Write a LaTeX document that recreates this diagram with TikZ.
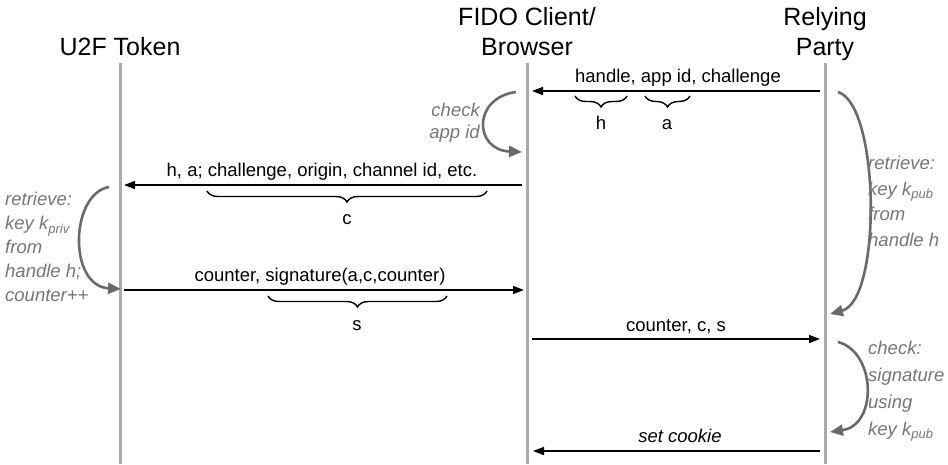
\documentclass[tikz,border=0pt]{standalone}
\usepackage{fontspec}
\setmainfont{Liberation Sans}
\usetikzlibrary{arrows.meta,decorations.pathreplacing}
\definecolor{lifegray}{HTML}{AAAAAA}
\definecolor{arcgray}{HTML}{6A6A6A}
\definecolor{txtgray}{HTML}{767676}
\begin{document}
\begin{tikzpicture}[x=1pt,y=-1pt,
  title/.style={font=\fontsize{25}{30}\selectfont, align=center, inner sep=0pt},
  life/.style={draw=lifegray, line width=3pt},
  msg/.style={draw=black, line width=1.6pt, -{Triangle[length=11pt,width=8pt]}},
  msglabel/.style={font=\fontsize{18.5}{22}\selectfont, inner sep=0pt, anchor=base},
  bracelabel/.style={font=\fontsize{18.5}{22}\selectfont, inner sep=0pt, anchor=base},
  brc/.style={draw=black, line width=1.4pt, decorate, decoration={brace, mirror, amplitude=11pt}},
  arc/.style={draw=arcgray, line width=2.6pt, -{Triangle[length=13pt,width=11pt]}},
  note/.style={text=txtgray, inner sep=0pt},
]
\useasboundingbox (0,0) rectangle (948,464);

% titles
\node[title, anchor=base] (tok) at (120,55) {U2F Token};
\node[title, anchor=base] (cli1) at (527,25) {FIDO Client/};
\node[title, anchor=base] (cli2) at (527,55) {Browser};
\node[title, anchor=base] (rp1) at (825,25) {Relying};
\node[title, anchor=base] (rp2) at (825,55) {Party};

% lifelines
\coordinate (tokT) at (120,63); \coordinate (tokB) at (120,464);
\coordinate (cliT) at (527,63); \coordinate (cliB) at (527,464);
\coordinate (rpT) at (825,63);  \coordinate (rpB) at (825,464);
\draw[life] (tokT) -- (tokB);
\draw[life] (cliT) -- (cliB);
\draw[life] (rpT) -- (rpB);

% message 1
\coordinate (m1s) at (820,91); \coordinate (m1e) at (532,91);
\draw[msg] (m1s) -- (m1e);
\node[msglabel] (l1) at (678,82) {handle, app id, challenge};
\coordinate (b1a) at (575,96); \coordinate (b1b) at (627,96);
\draw[brc] (b1a) -- (b1b);
\node[bracelabel] (h) at (601,129) {h};
\coordinate (b2a) at (645,96); \coordinate (b2b) at (690,96);
\draw[brc] (b2a) -- (b2b);
\node[bracelabel] (a) at (667,129) {a};

% check app id
\coordinate (ca1) at (516,92); \coordinate (ca2) at (522,152);
\draw[arc] (ca1) .. controls (472,98) and (474,150) .. (ca2);
\node[note, anchor=north east, align=right, font=\fontsize{18.5}{22}\selectfont\itshape] (chk) at (480,103) {check\\app id};

% message 2
\coordinate (m2s) at (522,185); \coordinate (m2e) at (124,185);
\draw[msg] (m2s) -- (m2e);
\node[msglabel] (l2) at (322,176) {h, a; challenge, origin, channel id, etc.};
\coordinate (b3a) at (207,191); \coordinate (b3b) at (487,191);
\draw[brc] (b3a) -- (b3b);
\node[bracelabel] (c) at (347,224) {c};

% retrieve (token)
\coordinate (r1a) at (109,187); \coordinate (r1b) at (121,289);
\draw[arc] (r1a) .. controls (70,194) and (68,286) .. (r1b);
\node[note, anchor=north west, align=left, font=\fontsize{18.5}{24}\selectfont\itshape] (rt) at (5,192)
  {retrieve:\\key k\textsubscript{priv}\\from\\handle h;\\counter++};

% message 3
\coordinate (m3s) at (124,290); \coordinate (m3e) at (524,290);
\draw[msg] (m3s) -- (m3e);
\node[msglabel] (l3) at (320,281) {counter, signature(a,c,counter)};
\coordinate (b4a) at (268,296); \coordinate (b4b) at (447,296);
\draw[brc] (b4a) -- (b4b);
\node[bracelabel] (s) at (357,330) {s};

% retrieve (RP)
\coordinate (r2a) at (838,92); \coordinate (r2b) at (830,314);
\draw[arc] (r2a) .. controls (880,105) and (882,300) .. (r2b);
\node[note, anchor=north west, align=left, font=\fontsize{18.5}{25.5}\selectfont\itshape] (rr) at (868,156)
  {retrieve:\\key k\textsubscript{pub}\\from\\handle h};

% message 4
\coordinate (m4s) at (532,339); \coordinate (m4e) at (820,339);
\draw[msg] (m4s) -- (m4e);
\node[msglabel] (l4) at (676,331) {counter, c, s};

% check (RP)
\coordinate (c2a) at (838,342); \coordinate (c2b) at (830,432);
\draw[arc] (c2a) .. controls (876,352) and (878,425) .. (c2b);
\node[note, anchor=north west, align=left, font=\fontsize{18.5}{26.8}\selectfont\itshape] (cr) at (868,341)
  {check:\\signature\\using\\key k\textsubscript{pub}};

% message 5
\coordinate (m5s) at (820,451); \coordinate (m5e) at (533,451);
\draw[msg] (m5s) -- (m5e);
\node[msglabel, font=\fontsize{18.5}{22}\selectfont\itshape] (l5) at (680,442) {set cookie};
\end{tikzpicture}
\end{document}
